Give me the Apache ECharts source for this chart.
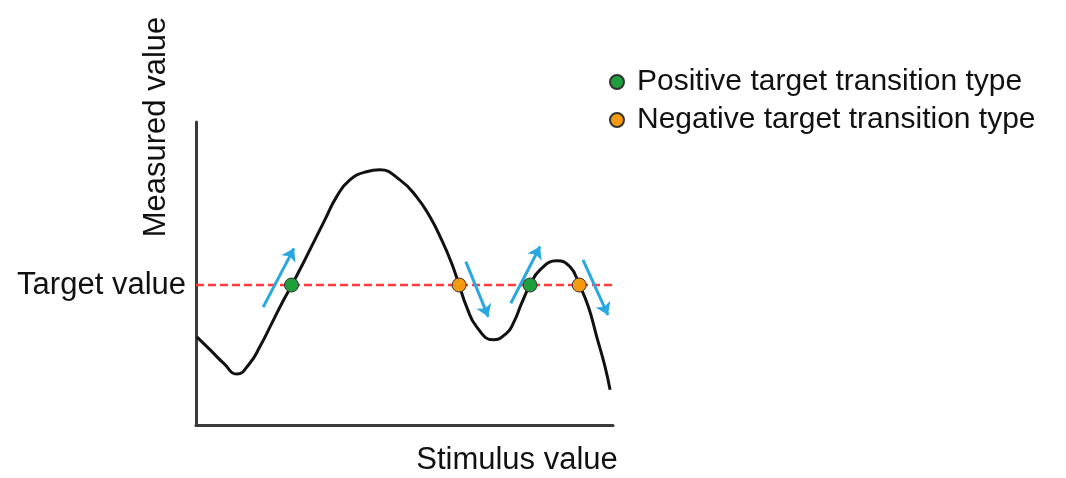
<!DOCTYPE html>
<html>
<head>
<meta charset="utf-8">
<script src="https://cdn.jsdelivr.net/npm/echarts@6/dist/echarts.min.js"></script>
<style>
  html, body { margin: 0; padding: 0; background: #fff; }
  #chart { width: 1066px; height: 478px; }
</style>
</head>
<body>
<div id="chart"></div>
<script>
// response curve, stimulus (x) vs measured value (y), both 0..100
const curveX = [0.2, 3.4, 6.6, 9.8, 12.9, 15.3, 18.2, 20.6, 22.9, 25.7, 28.5, 30.9, 33.7, 36.9, 40.9, 44.1, 48.9, 52.9, 56.1, 58.9, 61.3, 63.1, 64.9, 67.3, 71.3, 74.5, 76.1, 78.1, 80.1, 82.5, 86.5, 89.7, 91.9, 94.1, 96.1, 98.1, 99.3];
const curveY = [29.1, 24.8, 20.4, 16.8, 20.4, 25.8, 33.6, 40.2, 46.0, 53.4, 61.1, 67.7, 75.3, 80.9, 83.6, 84.2, 80.9, 75.3, 68.7, 61.1, 53.4, 46.2, 39.0, 32.4, 28.1, 30.3, 33.6, 40.2, 46.2, 51.2, 54.2, 52.2, 46.4, 39.0, 29.1, 19.2, 11.6];

const targetValue = 46.2;
const targetRange = [0, 100];

const positiveX = [22.9, 80.1];
const negativeX = [63.1, 91.9];

// direction arrows: [fromX, fromY, toX, toY]
const arrows = [
  [16.1, 38.9, 23.5, 58.3],
  [64.7, 53.9, 70.1, 35.7],
  [75.5, 40.2, 82.5, 58.9],
  [92.8, 54.5, 98.8, 36.3]
];

const posName = 'Positive target transition type';
const negName = 'Negative target transition type';

const font = "'Liberation Sans', Arial, sans-serif";
const textColor = '#111';
const chart = echarts.init(document.getElementById('chart'));

const option = {
  animation: false,
  grid: { left: 196, top: 122, width: 417, height: 303 },
  xAxis: {
    type: 'value', min: 0, max: 100,
    axisLine: { show: true, lineStyle: { color: '#3a3a3a', width: 3 } },
    axisTick: { show: false }, axisLabel: { show: false }, splitLine: { show: false }
  },
  yAxis: {
    type: 'value', min: 0, max: 100,
    axisLine: { show: true, lineStyle: { color: '#3a3a3a', width: 3 } },
    axisTick: { show: false }, splitLine: { show: false },
    axisLabel: {
      show: true,
      customValues: [targetValue],
      formatter: () => 'Target value',
      margin: 10,
      color: textColor, fontSize: 31, fontFamily: font
    }
  },
  legend: {
    left: 604, top: 62, orient: 'vertical',
    itemWidth: 14, itemHeight: 14, itemGap: 8,
    data: [{ name: posName, icon: 'circle' }, { name: negName, icon: 'circle' }],
    textStyle: { color: textColor, fontSize: 30, lineHeight: 30, fontFamily: font, padding: [0, 0, 0, 8] }
  },
  graphic: [
    {
      type: 'text', x: 156, y: 127, rotation: Math.PI / 2,
      style: { text: 'Measured value', fill: textColor, font: '31px ' + font, textAlign: 'center', textVerticalAlign: 'middle' }
    },
    {
      type: 'text', x: 517, y: 460,
      style: { text: 'Stimulus value', fill: textColor, font: '31px ' + font, textAlign: 'center', textVerticalAlign: 'middle' }
    }
  ],
  series: [
    {
      type: 'line', name: 'target', silent: true, symbol: 'none', z: 2,
      lineStyle: { color: '#ff3b3b', width: 2.5, type: [8, 4] },
      data: targetRange.map(x => [x, targetValue])
    },
    {
      type: 'line', name: 'curve', smooth: 0.5, symbol: 'none', z: 3,
      lineStyle: { color: '#111', width: 3 },
      data: curveX.map((x, i) => [x, curveY[i]])
    },
    {
      type: 'lines', coordinateSystem: 'cartesian2d', z: 4,
      symbol: ['none', 'arrow'], symbolSize: 12,
      lineStyle: { color: '#29a8e0', width: 3, opacity: 1 },
      data: arrows.map(a => ({ coords: [[a[0], a[1]], [a[2], a[3]]] }))
    },
    {
      type: 'scatter', name: posName, symbol: 'circle', symbolSize: 14, z: 10,
      itemStyle: { color: '#1f9e3c', borderColor: '#333', borderWidth: 1, opacity: 1 },
      data: positiveX.map(x => [x, targetValue])
    },
    {
      type: 'scatter', name: negName, symbol: 'circle', symbolSize: 14, z: 10,
      itemStyle: { color: '#f39a12', borderColor: '#333', borderWidth: 1, opacity: 1 },
      data: negativeX.map(x => [x, targetValue])
    }
  ]
};
chart.setOption(option);
</script>
</body>
</html>
